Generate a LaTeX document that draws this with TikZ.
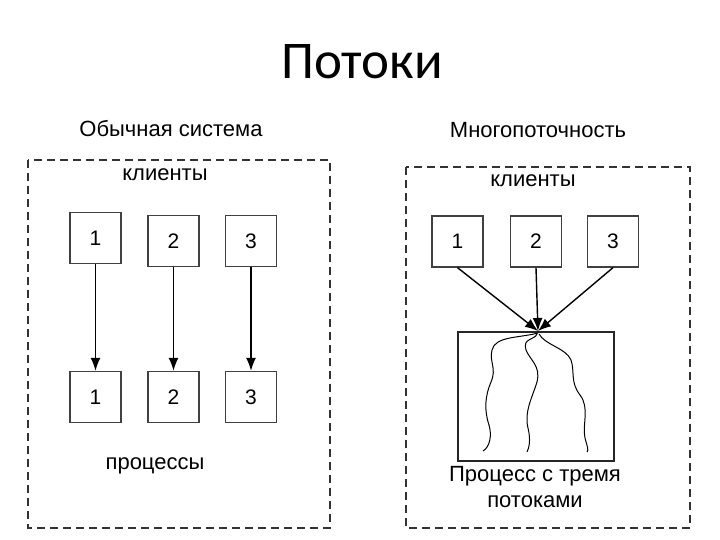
\documentclass[tikz,border=0pt]{standalone}
\usepackage{fontspec}
\setmainfont{Liberation Sans}
\newfontfamily\titlefont{Carlito}
\usetikzlibrary{arrows.meta}
\begin{document}
\begin{tikzpicture}[x=1pt,y=-1pt,
  frame/.style={draw=black!80,dashed,dash pattern=on 8pt off 5pt,line width=1.3pt},
  cbox/.style={draw=black!75,line width=1.3pt,minimum width=51pt,minimum height=51pt,inner sep=0pt,font=\fontsize{21}{21}\selectfont},
  lbl/.style={font=\fontsize{22}{26}\selectfont,align=center},
  arr/.style={line width=1.4pt,-{Latex[length=13pt,width=10pt]}},
  thread/.style={line width=1pt}]
\useasboundingbox (0,0) rectangle (720,540);
\node[font=\titlefont\fontsize{53}{53}\selectfont] (title) at (362,62) {Потоки};
% left
\node[lbl] (lt) at (171,129) {Обычная система};
\draw[frame] (28,160) rectangle (330,528);
\node[lbl] (lc) at (165,175) {клиенты};
\node[cbox] (a1) at (95.5,238) {1};
\node[cbox] (a2) at (173.5,241) {2};
\node[cbox] (a3) at (251,241) {3};
\node[cbox] (b1) at (95.5,397) {1};
\node[cbox] (b2) at (173.5,397) {2};
\node[cbox] (b3) at (251,397) {3};
\draw[arr] (a1.south) -- (b1.north);
\draw[arr] (a2.south) -- (b2.north);
\draw[arr] (a3.south) -- (b3.north);
\node[lbl] (lp) at (155,466) {процессы};
% right
\node[lbl] (rt) at (538,130) {Многопоточность};
\draw[frame] (406,167) rectangle (690,528);
\node[lbl] (rc) at (533,181) {клиенты};
\node[cbox] (c1) at (457.5,241.5) {1};
\node[cbox] (c2) at (536,241.5) {2};
\node[cbox] (c3) at (613,241.5) {3};
\node[draw=black!85,line width=1.3pt,minimum width=156pt,minimum height=129pt,inner sep=0pt] (p) at (536,396.5) {};
\coordinate (m) at (538,331);
\draw[arr] (c1.south) -- (m);
\draw[arr] (c2.south) -- (m);
\draw[arr] (c3.south) -- (m);
\draw[thread] (538,333) .. controls (520,338) and (495,336) .. (492,350)
  .. controls (489,362) and (497,368) .. (491,382)
  .. controls (485,396) and (484,410) .. (489,425)
  .. controls (492,435) and (490,447) .. (483,451);
\draw[thread] (537,334) .. controls (535,340) and (522,338) .. (526,350)
  .. controls (530,360) and (541,366) .. (537,382)
  .. controls (532,398) and (524,412) .. (528,428)
  .. controls (531,440) and (529,448) .. (527,452);
\draw[thread] (539,334) .. controls (545,345) and (566,348) .. (571,360)
  .. controls (575,372) and (570,382) .. (580,395)
  .. controls (590,408) and (582,425) .. (585,438)
  .. controls (587,446) and (589,450) .. (587,452);
\node[lbl] (rp) at (535,487) {Процесс с тремя\\потоками};
\end{tikzpicture}
\end{document}
